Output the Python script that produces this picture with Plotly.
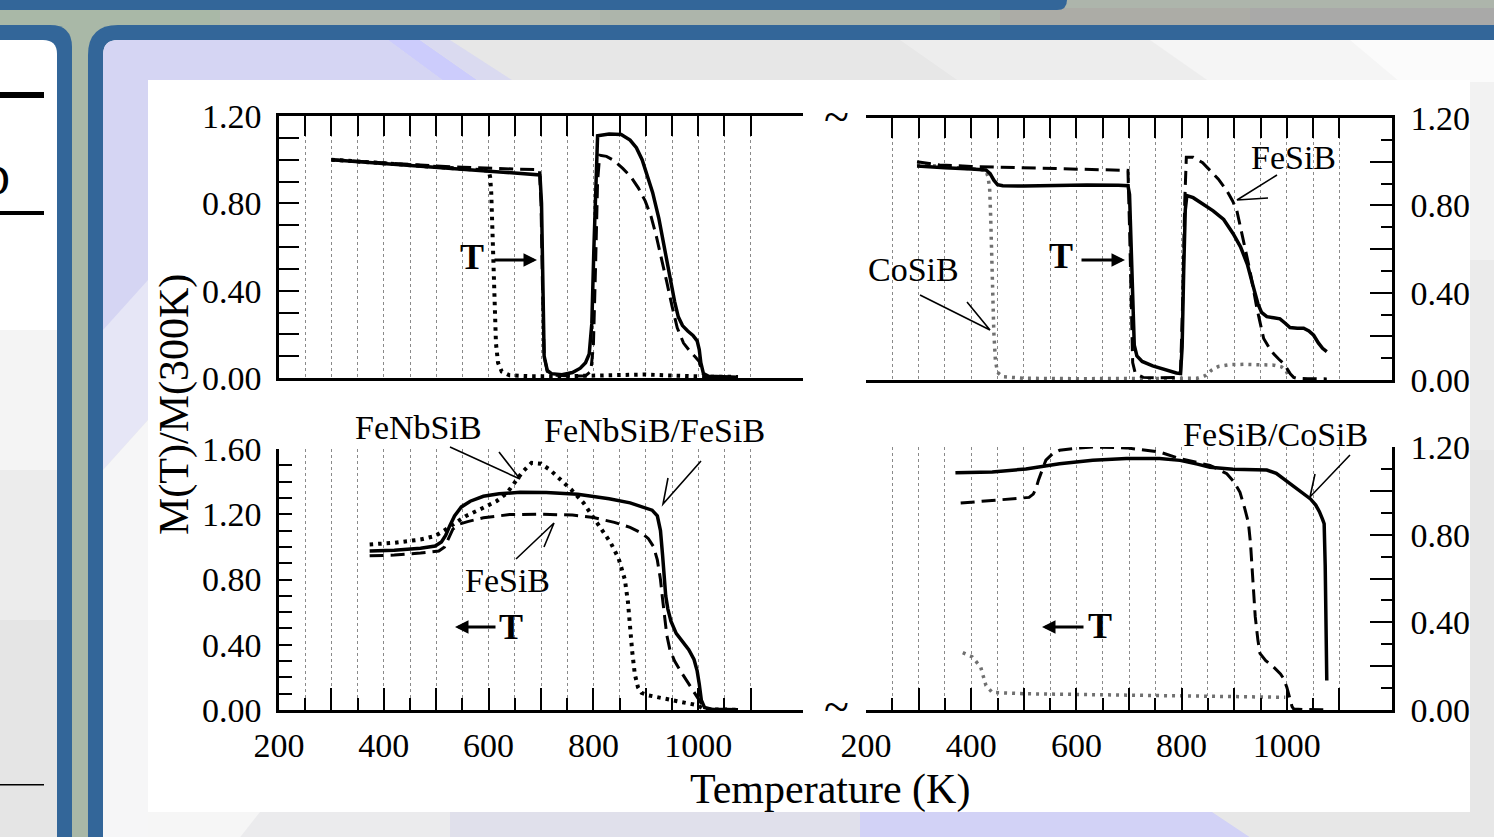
import plotly.graph_objects as go

W, H = 1494, 837
FONT = "Liberation Serif"

# ---------------- data (Temperature K, M(T)/M(300K)) ----------------
# top-left panel (heating)
tl_solid_T = [300, 350, 400, 450, 500, 550, 600, 650, 698, 701, 703, 706, 712, 720, 740, 760, 775, 785, 792, 797, 801, 805, 808, 830, 853, 870, 882, 893, 903, 913, 925, 935, 945, 955, 962, 970, 980, 990, 998, 1002, 1005, 1010, 1020, 1040, 1076]
tl_solid_M = [1.0, 0.991, 0.983, 0.975, 0.966, 0.958, 0.95, 0.941, 0.93, 0.80, 0.40, 0.10, 0.035, 0.02, 0.015, 0.025, 0.045, 0.07, 0.11, 0.25, 0.60, 0.95, 1.11, 1.118, 1.115, 1.09, 1.055, 1.0, 0.93, 0.85, 0.73, 0.60, 0.47, 0.35, 0.28, 0.24, 0.215, 0.195, 0.17, 0.13, 0.07, 0.02, 0.008, 0.005, 0.003]
tl_dash_T = [300, 350, 400, 450, 500, 550, 600, 650, 697, 700, 703, 706, 712, 730, 760, 785, 795, 800, 804, 808, 812, 825, 840, 856, 872, 886, 899, 910, 920, 930, 940, 950, 960, 972, 985, 995, 1002, 1007, 1015, 1040, 1076]
tl_dash_M = [1.0, 0.992, 0.985, 0.978, 0.971, 0.965, 0.96, 0.957, 0.955, 0.80, 0.40, 0.10, 0.03, 0.012, 0.008, 0.01, 0.03, 0.15, 0.50, 0.90, 1.02, 1.015, 0.995, 0.96, 0.92, 0.87, 0.81, 0.74, 0.65, 0.55, 0.44, 0.33, 0.23, 0.16, 0.12, 0.095, 0.075, 0.025, 0.006, 0.003, 0.002]
tl_dot_T = [300, 350, 400, 450, 500, 550, 600, 603, 605, 607, 609, 611, 614, 618, 625, 640, 680, 740, 800, 860, 900, 940, 980, 1020, 1076]
tl_dot_M = [1.0, 0.991, 0.983, 0.975, 0.966, 0.958, 0.95, 0.92, 0.85, 0.70, 0.50, 0.32, 0.16, 0.07, 0.03, 0.012, 0.008, 0.008, 0.01, 0.014, 0.016, 0.012, 0.008, 0.006, 0.005]

# top-right panel (heating)
tr_solid_T = [297, 320, 350, 400, 428, 436, 443, 450, 460, 500, 560, 620, 680, 698, 701, 704, 707, 710, 715, 725, 745, 770, 790, 798, 801, 804, 807, 810, 822, 841, 860, 880, 898, 912, 925, 936, 945, 952, 962, 975, 987, 997, 1006, 1020, 1032, 1042, 1051, 1060, 1068, 1076]
tr_solid_M = [0.98, 0.975, 0.972, 0.966, 0.962, 0.945, 0.915, 0.895, 0.89, 0.888, 0.892, 0.893, 0.892, 0.89, 0.85, 0.6, 0.3, 0.16, 0.11, 0.085, 0.065, 0.045, 0.032, 0.03, 0.15, 0.5, 0.78, 0.845, 0.835, 0.805, 0.775, 0.735, 0.67, 0.61, 0.53, 0.43, 0.35, 0.31, 0.29, 0.285, 0.28, 0.26, 0.24, 0.237, 0.237, 0.225, 0.205, 0.17, 0.145, 0.13]
tr_dash_T = [297, 340, 400, 450, 500, 560, 620, 680, 698, 701, 704, 707, 712, 727, 760, 790, 798, 802, 806, 809, 822, 840, 854, 870, 886, 897, 905, 912, 920, 930, 943, 956, 966, 975, 985, 994, 1001, 1007, 1013, 1019, 1040, 1076]
tr_dash_M = [1.0, 0.985, 0.978, 0.975, 0.972, 0.968, 0.965, 0.962, 0.96, 0.7, 0.3, 0.08, 0.03, 0.012, 0.01, 0.012, 0.03, 0.36, 0.82, 1.02, 1.02, 0.995, 0.96, 0.92, 0.867, 0.82, 0.776, 0.70, 0.62, 0.50, 0.33, 0.19, 0.15, 0.12, 0.095, 0.075, 0.05, 0.027, 0.012, 0.008, 0.006, 0.005]
tr_dot_T = [297, 340, 400, 428, 432, 435, 437, 439, 441, 443, 446, 450, 460, 500, 600, 700, 800, 830, 845, 857, 870, 890, 920, 950, 975, 990, 998, 1003, 1006]
tr_dot_M = [0.99, 0.978, 0.968, 0.96, 0.93, 0.88, 0.75, 0.55, 0.38, 0.22, 0.09, 0.035, 0.015, 0.008, 0.006, 0.006, 0.006, 0.008, 0.02, 0.045, 0.062, 0.07, 0.072, 0.072, 0.068, 0.06, 0.045, 0.02, 0.01]

# bottom-left panel (cooling)
bl_solid_T = [373, 420, 470, 498, 510, 518, 526, 535, 548, 565, 590, 620, 660, 710, 770, 830, 870, 895, 912, 922, 928, 932, 935, 938, 942, 948, 958, 970, 982, 992, 998, 1002, 1006, 1012, 1025, 1076]
bl_solid_M = [0.975, 0.98, 0.992, 1.005, 1.03, 1.07, 1.13, 1.19, 1.245, 1.28, 1.31, 1.325, 1.335, 1.333, 1.323, 1.295, 1.27, 1.245, 1.225, 1.19, 1.10, 0.95, 0.80, 0.70, 0.62, 0.545, 0.47, 0.42, 0.37, 0.31, 0.24, 0.16, 0.06, 0.015, 0.005, 0.002]
bl_dash_T = [373, 420, 470, 505, 516, 524, 532, 545, 560, 590, 640, 700, 760, 800, 840, 870, 892, 905, 915, 922, 928, 932, 936, 940, 946, 955, 968, 980, 992, 1002, 1010, 1016, 1030, 1076]
bl_dash_M = [0.945, 0.95, 0.962, 0.975, 1.0, 1.06, 1.11, 1.14, 1.155, 1.178, 1.198, 1.2, 1.195, 1.18, 1.15, 1.12, 1.085, 1.05, 1.0, 0.92, 0.80, 0.68, 0.56, 0.46, 0.37, 0.30, 0.23, 0.17, 0.11, 0.06, 0.02, 0.008, 0.003, 0.002]
bl_dot_T = [373, 420, 470, 498, 515, 535, 557, 590, 615, 635, 650, 665, 682, 700, 718, 738, 758, 781, 807, 833, 848, 860, 866, 870, 874, 879, 885, 892, 905, 920, 951, 978, 997, 1008, 1014, 1030, 1076]
bl_dot_M = [1.015, 1.025, 1.045, 1.067, 1.1, 1.145, 1.19, 1.24, 1.28, 1.33, 1.40, 1.46, 1.515, 1.51, 1.47, 1.41, 1.35, 1.27, 1.15, 1.025, 0.93, 0.80, 0.66, 0.50, 0.36, 0.22, 0.14, 0.105, 0.09, 0.08, 0.062, 0.045, 0.03, 0.012, 0.005, 0.003, 0.002]

# bottom-right panel (cooling)
br_solid_T = [370, 440, 504, 568, 631, 695, 758, 797, 830, 854, 898, 940, 962, 980, 994, 1008, 1019, 1032, 1045, 1055, 1062, 1068, 1071, 1073, 1075, 1076]
br_solid_M = [1.082, 1.086, 1.1, 1.124, 1.139, 1.147, 1.147, 1.139, 1.122, 1.108, 1.098, 1.097, 1.095, 1.08, 1.055, 1.03, 1.009, 0.985, 0.963, 0.935, 0.905, 0.87, 0.85, 0.66, 0.35, 0.135]
br_dash_T = [380, 440, 510, 518, 523, 528, 533, 542, 555, 568, 600, 631, 695, 758, 797, 830, 854, 872, 886, 900, 911, 920, 927, 931, 934, 937, 940, 945, 949, 960, 975, 988, 994, 1000, 1006, 1010, 1013, 1030, 1076]
br_dash_M = [0.944, 0.955, 0.97, 0.985, 1.009, 1.05, 1.085, 1.14, 1.17, 1.185, 1.195, 1.2, 1.196, 1.177, 1.147, 1.13, 1.116, 1.095, 1.078, 1.04, 0.993, 0.92, 0.855, 0.76, 0.656, 0.55, 0.426, 0.32, 0.258, 0.225, 0.196, 0.165, 0.143, 0.104, 0.043, 0.015, 0.005, 0.002, 0.001]
br_dot_T = [384, 402, 418, 428, 440, 470, 504, 631, 758, 886, 981, 997]
br_dot_M = [0.262, 0.242, 0.196, 0.112, 0.08, 0.076, 0.074, 0.07, 0.066, 0.063, 0.06, 0.058]

# ---------------- ticks ----------------
x_all_ticks = [200, 250, 300, 350, 400, 450, 500, 550, 600, 650, 700, 750, 800, 850, 900, 950, 1000, 1050, 1100]
x_major_ticks = [200, 300, 400, 500, 600, 700, 800, 900, 1000, 1100]
x_major_text = ["200", "", "400", "", "600", "", "800", "", "1000", ""]
x_minor_ticks = [250, 350, 450, 550, 650, 750, 850, 950, 1050]
y12_ticks = [0.0, 0.1, 0.2, 0.3, 0.4, 0.5, 0.6, 0.7, 0.8, 0.9, 1.0, 1.1, 1.2]
y12_text = ["0.00", "", "", "", "0.40", "", "", "", "0.80", "", "", "", "1.20"]
y12_major = [0.0, 0.2, 0.4, 0.6, 0.8, 1.0, 1.2]
y12_major_text = ["0.00", "", "0.40", "", "0.80", "", "1.20"]
y12_minor = [0.1, 0.3, 0.5, 0.7, 0.9, 1.1]
y16_ticks = [0.0, 0.1, 0.2, 0.3, 0.4, 0.5, 0.6, 0.7, 0.8, 0.9, 1.0, 1.1, 1.2, 1.3, 1.4, 1.5, 1.6]
y16_text = ["0.00", "", "", "", "0.40", "", "", "", "0.80", "", "", "", "1.20", "", "", "", "1.60"]


def fx(px):
    return px / W


def fy(py):
    return 1 - py / H


def P(px, py):
    return f"{px / W:.5f},{1 - py / H:.5f}"


fig = go.Figure()

SOLID = dict(color="black", width=3.5)
DASH = dict(color="black", width=3, dash="14px,7px")
DOT_K = dict(color="black", width=4, dash="3.5px,5px")
DOT_G = dict(color="#707070", width=3.5, dash="3px,5px")

panels = [
    ("x", "y", tl_solid_T, tl_solid_M, tl_dash_T, tl_dash_M, tl_dot_T, tl_dot_M, DOT_K),
    ("x2", "y2", tr_solid_T, tr_solid_M, tr_dash_T, tr_dash_M, tr_dot_T, tr_dot_M, DOT_G),
    ("x3", "y3", bl_solid_T, bl_solid_M, bl_dash_T, bl_dash_M, bl_dot_T, bl_dot_M, DOT_K),
    ("x4", "y4", br_solid_T, br_solid_M, br_dash_T, br_dash_M, br_dot_T, br_dot_M, DOT_G),
]
for xa, ya, sT, sM, dT, dM, oT, oM, dotstyle in panels:
    fig.add_trace(go.Scatter(x=oT, y=oM, mode="lines", line=dotstyle, xaxis=xa, yaxis=ya,
                             showlegend=False, hoverinfo="skip"))
    fig.add_trace(go.Scatter(x=dT, y=dM, mode="lines", line=DASH, xaxis=xa, yaxis=ya,
                             showlegend=False, hoverinfo="skip"))
    fig.add_trace(go.Scatter(x=sT, y=sM, mode="lines", line=SOLID, xaxis=xa, yaxis=ya,
                             showlegend=False, hoverinfo="skip"))

tickfont = dict(family=FONT, size=34, color="black")
grid = dict(showgrid=True, gridcolor="#8a8a8a", gridwidth=1, griddash="dot")
base_ax = dict(showline=True, linecolor="black", linewidth=2.5, zeroline=False, fixedrange=True,
               automargin=False, tickcolor="black", tickwidth=2, tickfont=tickfont)

# domains (pixel based)
XL = [fx(279), fx(803)]
XR = [fx(866), fx(1392)]

xtop = dict(base_ax, range=[200, 1200], side="top", mirror=True, ticks="inside", ticklen=20,
            tickmode="array", tickvals=x_all_ticks, showticklabels=False, **grid)
xbot = dict(base_ax, range=[200, 1200], side="bottom", mirror=False, ticks="inside", ticklen=22,
            tickmode="array", tickvals=x_major_ticks, ticktext=x_major_text, ticklabelstandoff=3,
            minor=dict(tickmode="array", tickvals=x_minor_ticks, ticks="inside", ticklen=12,
                       tickcolor="black", tickwidth=2, showgrid=True, gridcolor="#8a8a8a",
                       gridwidth=1, griddash="dot"),
            **grid)
yright = dict(base_ax, range=[0, 1.2], side="right", ticks="inside", ticklen=22, showgrid=False,
              tickmode="array", tickvals=y12_major, ticktext=y12_major_text, ticklabelstandoff=9,
              minor=dict(tickmode="array", tickvals=y12_minor, ticks="inside", ticklen=11,
                         tickcolor="black", tickwidth=2, showgrid=False))

fig.update_layout(
    xaxis=dict(xtop, domain=XL, anchor="y"),
    yaxis=dict(base_ax, domain=[fy(378), fy(116)], anchor="x", range=[0, 1.2], side="left",
               ticks="inside", ticklen=20, showgrid=False, tickmode="array", tickvals=y12_ticks,
               ticktext=y12_text, ticklabelstandoff=8),
    xaxis2=dict(xtop, domain=XR, anchor="y2"),
    yaxis2=dict(yright, domain=[fy(380), fy(118)], anchor="x2"),
    xaxis3=dict(xbot, domain=XL, anchor="y3"),
    yaxis3=dict(base_ax, domain=[fy(710), fy(449)], anchor="x3", range=[0, 1.6], side="left",
                ticks="inside", ticklen=13, showgrid=False, tickmode="array", tickvals=y16_ticks,
                ticktext=y16_text, ticklabelstandoff=8),
    xaxis4=dict(xbot, domain=XR, anchor="y4"),
    yaxis4=dict(yright, domain=[fy(710), fy(447)], anchor="x4"),
)

# ---------------- slide background ----------------
BLUE = "#336699"
shapes = []


def rect(x0, y0, x1, y1, color):
    shapes.append(dict(type="rect", xref="paper", yref="paper", x0=fx(x0), x1=fx(x1),
                       y0=fy(y1), y1=fy(y0), fillcolor=color, line=dict(width=0), layer="below"))


def poly(pts, color):
    path = "M " + " L ".join(P(x, y) for x, y in pts) + " Z"
    shapes.append(dict(type="path", xref="paper", yref="paper", path=path, fillcolor=color,
                       line=dict(width=0), layer="below"))


def rr_tl(x0, y0, x1, y1, r, color):
    path = (f"M {P(x0, y1)} L {P(x0, y0 + r)} Q {P(x0, y0)} {P(x0 + r, y0)} "
            f"L {P(x1, y0)} L {P(x1, y1)} Z")
    shapes.append(dict(type="path", xref="paper", yref="paper", path=path, fillcolor=color,
                       line=dict(width=0), layer="below"))


def rr_tr(x0, y0, x1, y1, r, color):
    path = (f"M {P(x0, y1)} L {P(x0, y0)} L {P(x1 - r, y0)} Q {P(x1, y0)} {P(x1, y0 + r)} "
            f"L {P(x1, y1)} Z")
    shapes.append(dict(type="path", xref="paper", yref="paper", path=path, fillcolor=color,
                       line=dict(width=0), layer="below"))


# top strip
rect(-10, -10, 1510, 30, "#adb5ab")
rect(-10, 8, 220, 30, "#a9b8a7")
rect(220, 8, 600, 30, "#b1b8af")
rect(1000, 8, 1510, 30, "#acaca6")
rect(1250, 8, 1510, 30, "#a9a9a8")
# top blue bar with rounded end
shapes.append(dict(type="path", xref="paper", yref="paper",
                   path=f"M {P(-10, -10)} L {P(1067, -10)} L {P(1067, 0)} Q {P(1067, 10)} {P(1057, 10)} L {P(-10, 10)} Z",
                   fillcolor=BLUE, line=dict(width=0), layer="below"))
# left frame
rr_tr(-10, 25, 72, 850, 22, BLUE)
rr_tr(-10, 40, 57, 850, 14, "#ffffff")
rect(-10, 330, 57, 470, "#f4f4f4")
rect(-10, 470, 57, 620, "#ececec")
rect(-10, 620, 57, 850, "#e5e5e5")
# right frame
rr_tl(88, 25, 1510, 850, 30, BLUE)
rr_tl(103, 40, 1510, 850, 15, "#e7e7e7")
# top light area to the right
poly([(900, 40), (1510, 40), (1510, 82), (960, 82)], "#ededed")
poly([(1150, 40), (1510, 40), (1510, 82), (1210, 82)], "#f5f5f5")
poly([(1350, 40), (1510, 40), (1510, 82), (1400, 82)], "#fbfbfb")
# lavender top-left
shapes.append(dict(type="path", xref="paper", yref="paper",
                   path=(f"M {P(103, 420)} L {P(103, 55)} Q {P(103, 40)} {P(118, 40)} L {P(388, 40)} "
                         f"L {P(445, 82)} L {P(148, 82)} L {P(148, 330)} Z"),
                   fillcolor="#d5d5f3", line=dict(width=0), layer="below"))
poly([(388, 40), (420, 40), (480, 82), (445, 82)], "#ccccfc")
poly([(420, 40), (450, 40), (515, 82), (480, 82)], "#dadaf0")
# left strip below lavender
poly([(103, 330), (148, 280), (148, 420), (103, 470)], "#e6e6f6")
poly([(103, 470), (148, 420), (148, 850), (103, 850)], "#f6f6f7")
# right strip
rect(1470, 82, 1510, 260, "#f2f2f2")
rect(1470, 260, 1510, 450, "#ebebeb")
# bottom strip
poly([(148, 812), (450, 812), (450, 850), (148, 850)], "#ebebed")
poly([(148, 812), (260, 812), (230, 850), (148, 850)], "#f6f6f6")
poly([(450, 812), (860, 812), (860, 850), (450, 850)], "#e0e0eb")
poly([(860, 812), (1212, 812), (1254, 840), (1260, 850), (860, 850)], "#d2d2f6")
# white figure area
rect(148, 80, 1470, 812, "#ffffff")
# left frame text lines
rect(-10, 92, 44, 98, "#000000")
rect(-10, 211, 44, 215, "#000000")
rect(-10, 784, 44, 785.5, "#000000")

# pointer leader lines (label -> curve) with a one-sided barb
pointers = [
    [(450, 447), (520, 479), (499, 452)],      # FeNbSiB
    [(701, 461), (663, 504), (668, 478)],      # FeNbSiB/FeSiB
    [(516, 559), (554, 523), (544, 547)],      # FeSiB (bottom-left)
    [(920, 295), (990, 330), (967, 302)],      # CoSiB
    [(1277, 175), (1237, 200), (1268, 198)],   # FeSiB (top-right)
    [(1350, 455), (1310, 497), (1315, 474)],   # FeSiB/CoSiB
]
for (tx, ty), (hx, hy), (bx, by) in pointers:
    shapes.append(dict(type="path", xref="paper", yref="paper",
                       path=f"M {P(tx, ty)} L {P(hx, hy)} L {P(bx, by)}",
                       line=dict(color="black", width=1.6), layer="above"))

annotations = []


def label(text, px, py, size=34, bold=False, angle=0):
    annotations.append(dict(text=f"<b>{text}</b>" if bold else text, x=fx(px), y=fy(py),
                            xref="paper", yref="paper", showarrow=False, xanchor="center",
                            yanchor="middle", textangle=angle,
                            font=dict(family=FONT, size=size, color="black")))


label("FeNbSiB", 418, 427)
label("FeNbSiB/FeSiB", 654, 430)
label("FeSiB", 507, 580)
label("CoSiB", 914, 270)
label("FeSiB", 1293, 158)
label("FeSiB/CoSiB", 1275, 434)
label("T", 472, 257, size=36, bold=True)
label("T", 1061, 256, size=36, bold=True)
label("T", 511, 627, size=36, bold=True)
label("T", 1100, 626, size=36, bold=True)
label("~", 836, 116, size=46)
label("~", 836, 706, size=46)
label("Temperature (K)", 830, 789, size=42)
label("M(T)/M(300K)", 174, 405, size=42, angle=-90)
annotations.append(dict(text="D", x=fx(12), y=fy(180), xref="paper", yref="paper", showarrow=False,
                        xanchor="right", yanchor="middle",
                        font=dict(family=FONT, size=44, color="black")))

# "T" direction arrows
for tip, tail in [((537, 260), (493, 260)), ((1125, 260), (1080, 260)),
                  ((455, 627), (497, 627)), ((1042, 627), (1085, 627))]:
    annotations.append(dict(text="", x=fx(tip[0]), y=fy(tip[1]), xref="paper", yref="paper",
                            ax=tail[0] - tip[0], ay=tail[1] - tip[1], showarrow=True,
                            arrowhead=2, arrowsize=0.9, arrowwidth=3, arrowcolor="black"))

fig.update_layout(
    width=W, height=H, margin=dict(l=0, r=0, t=0, b=0, pad=0, autoexpand=False),
    paper_bgcolor="#a9b8a7", plot_bgcolor="rgba(0,0,0,0)",
    shapes=shapes, annotations=annotations, showlegend=False,
)

fig.write_html("out.html", config={"displayModeBar": False})
